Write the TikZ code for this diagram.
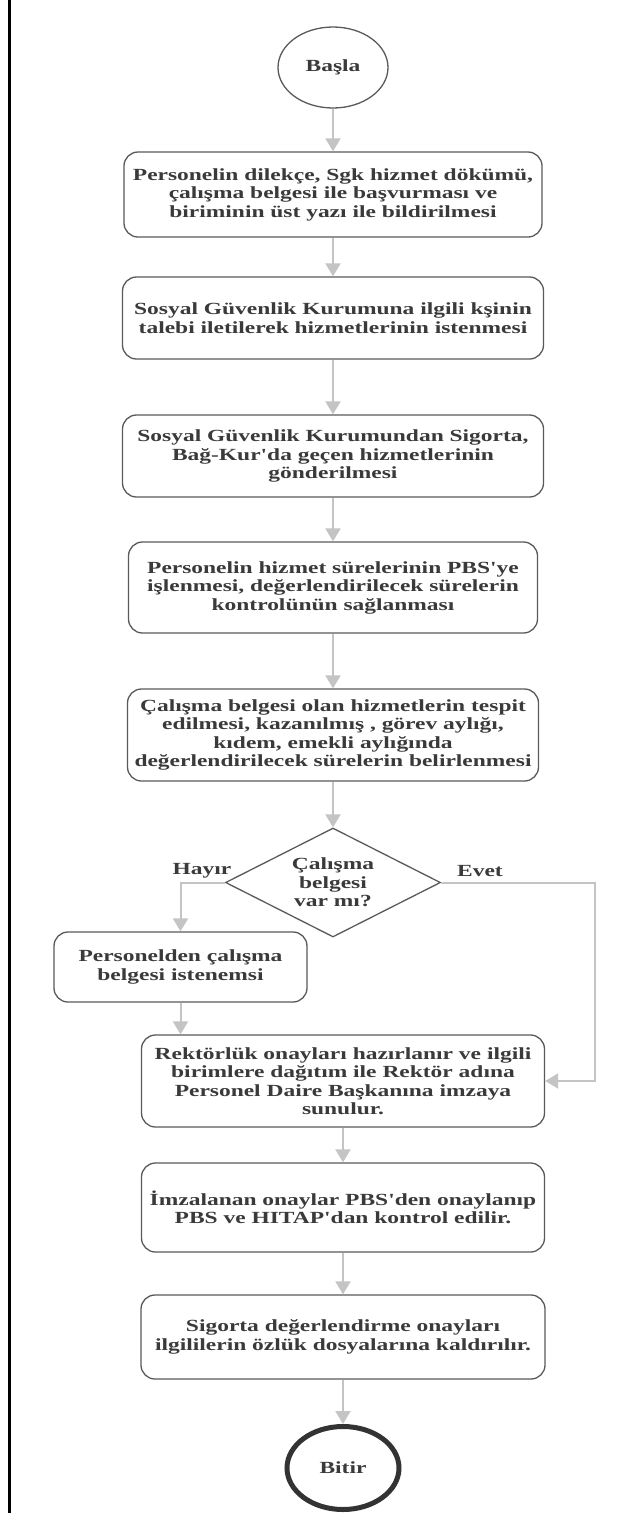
\documentclass[tikz,border=0pt]{standalone}
\usepackage{fontspec}
\usetikzlibrary{arrows.meta,shapes.geometric}
\newfontfamily\boxfont{Liberation Serif}[FakeStretch=1.38]
\definecolor{txt}{HTML}{3A3A3A}
\definecolor{edge}{HTML}{5A5A5A}
\definecolor{arr}{HTML}{C4C4C4}
\definecolor{ring}{HTML}{333333}
\begin{document}
\begin{tikzpicture}[x=1pt,y=-1pt,
  every node/.style={font=\boxfont\bfseries\fontsize{17}{18.5}\selectfont, text=txt},
  box/.style={draw=edge, line width=1.3pt, rounded corners=14pt, align=center, inner sep=0pt},
  flow/.style={draw=arr, line width=2pt, -{Triangle[width=15pt,length=13pt]}},
  lbl/.style={inner sep=0pt}
]
\fill[white] (0,0) rectangle (630,1513);
\useasboundingbox (0,0) rectangle (630,1513);
\draw[line width=3pt, black] (9.5,0) -- (9.5,1513);

\node[ellipse, draw=edge, line width=1.3pt, minimum width=110pt, minimum height=81pt, inner sep=0pt] (start) at (333,67.5) {Başla};

\node[box, minimum width=418pt, minimum height=85pt] (b1) at (333,194.5)
  {Personelin dilekçe, Sgk hizmet dökümü,\\ çalışma belgesi  ile başvurması ve\\ biriminin üst yazı ile bildirilmesi};
\node[box, minimum width=421pt, minimum height=82pt] (b2) at (333,318)
  {Sosyal Güvenlik Kurumuna ilgili kşinin\\ talebi iletilerek hizmetlerinin istenmesi};
\node[box, minimum width=421pt, minimum height=82pt] (b3) at (333,456)
  {Sosyal Güvenlik Kurumundan Sigorta,\\ Bağ-Kur'da geçen hizmetlerinin\\ gönderilmesi};
\node[box, minimum width=409pt, minimum height=91pt] (b4) at (333,587.5)
  {Personelin hizmet sürelerinin PBS'ye\\ işlenmesi, değerlendirilecek sürelerin\\ kontrolünün sağlanması};
\node[box, minimum width=411pt, minimum height=92pt] (b5) at (333,735)
  {Çalışma belgesi olan hizmetlerin tespit\\ edilmesi, kazanılmış , görev aylığı,\\ kıdem, emekli aylığında\\ değerlendirilecek sürelerin belirlenmesi};

\node[diamond, draw=edge, line width=1.3pt, aspect=2, minimum width=215pt, minimum height=109pt, inner sep=0pt, align=center] (dia) at (333,882.5)
  {Çalışma\\ belgesi\\ var mı?};
\node[lbl] (hayir) at (202,871) {Hayır};
\node[lbl] (evet) at (480,871) {Evet};

\node[box, minimum width=253pt, minimum height=70pt] (b6) at (180.5,967)
  {Personelden çalışma\\ belgesi istenemsi};

\node[box, minimum width=403pt, minimum height=92pt] (b7) at (343,1081)
  {Rektörlük onayları hazırlanır ve ilgili\\ birimlere dağıtım ile Rektör adına\\ Personel Daire Başkanına imzaya\\ sunulur.};
\node[box, minimum width=403pt, minimum height=89pt] (b8) at (343,1207.5)
  {İmzalanan onaylar PBS'den onaylanıp\\ PBS ve HITAP'dan kontrol edilir.};
\node[box, minimum width=404pt, minimum height=84pt] (b9) at (343,1337)
  {Sigorta değerlendirme onayları\\ ilgililerin özlük dosyalarına kaldırılır.};

\node[ellipse, draw=ring, line width=5pt, minimum width=112pt, minimum height=83pt, inner sep=0pt] (end) at (343,1468) {Bitir};

\coordinate (evetcorner) at (595,882.5);

\draw[flow] (start) -- (b1);
\draw[flow] (b1) -- (b2);
\draw[flow] (b2) -- (b3);
\draw[flow] (b3) -- (b4);
\draw[flow] (b4) -- (b5);
\draw[flow] (b5) -- (dia);
\draw[flow] (dia.west) -| (b6.north);
\draw[flow] (b6.south) -- (b6.south |- b7.north);
\draw[flow] (dia.east) -- (evetcorner) |- (b7.east);
\draw[flow] (b7) -- (b8);
\draw[flow] (b8) -- (b9);
\draw[flow] (b9) -- (end);
\end{tikzpicture}
\end{document}
